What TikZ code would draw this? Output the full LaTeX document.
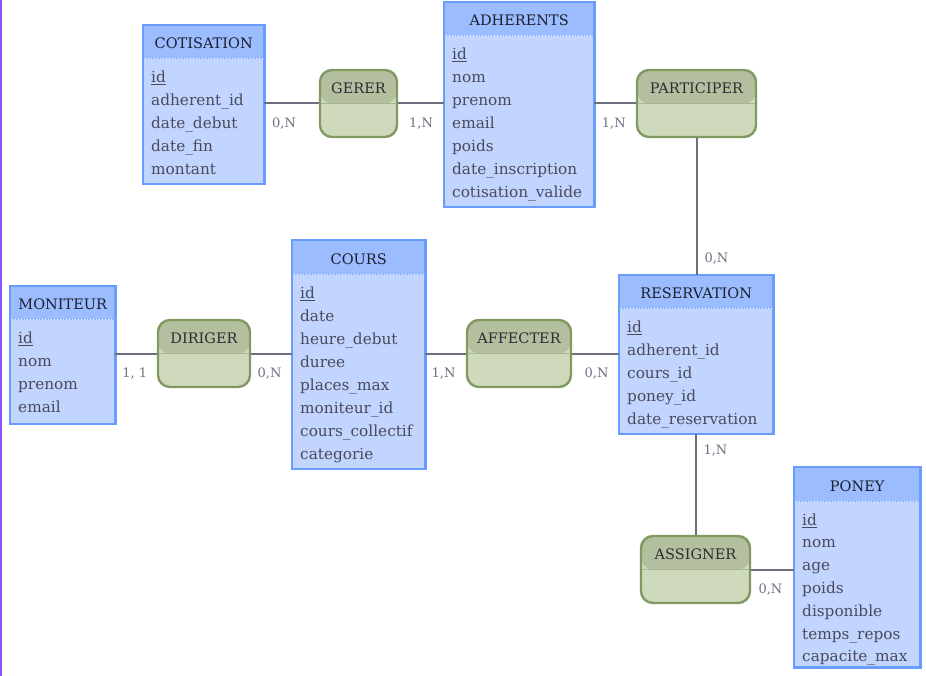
\documentclass[tikz,border=0pt]{standalone}
\usepackage{fontspec}
\setmainfont{DejaVu Serif}
\usetikzlibrary{positioning}

\definecolor{enthd}{HTML}{9BBDFF}
\definecolor{entbd}{HTML}{C2D5FF}
\definecolor{entln}{HTML}{6A9CFF}
\definecolor{relhd}{HTML}{B3BF9E}
\definecolor{relbd}{HTML}{CFDABC}
\definecolor{relln}{HTML}{809A62}
\definecolor{titlecol}{HTML}{1E1E2C}
\definecolor{attcol}{HTML}{4A4A5C}
\definecolor{cardcol}{HTML}{707084}
\definecolor{conncol}{HTML}{6E6E80}
\definecolor{sidecol}{HTML}{8A55FF}

\begin{document}
\begin{tikzpicture}[x=1pt,y=-1pt,
    enthead/.style={rectangle, anchor=north west, fill=enthd, minimum height=33pt, inner sep=0pt,
                    text height=14pt, text depth=0pt,
                    font=\fontsize{14.5}{16}\selectfont, text=titlecol},
    entbody/.style={rectangle, anchor=north west, fill=entbd, inner xsep=8pt, inner ysep=0pt,
                    align=left, font=\fontsize{15.3}{23}\selectfont, text=attcol,
                    execute at begin node={\rule{0pt}{23.5pt}},
                    execute at end node={\rule[-\bodypad]{0pt}{\bodypad}}},
    entframe/.style={draw=entln, line width=2.4pt},
    entsep/.style={draw=entln!80, dash pattern=on 2pt off 1pt, line width=1pt},
    relnode/.style={rectangle, rounded corners=12pt, draw=relln, line width=2.4pt, fill=relbd,
                    minimum height=67pt, inner ysep=0pt, text height=23.5pt, text depth=43.5pt,
                    font=\fontsize{14.5}{16}\selectfont, text=titlecol!88!relln,
                    path picture={\fill[relhd] (path picture bounding box.north west) rectangle (path picture bounding box.east);
                                  \draw[relln!70, line width=1pt] (path picture bounding box.west) -- (path picture bounding box.east);}},
    cardlabel/.style={font=\fontsize{13}{15}\selectfont, text=cardcol, inner sep=0pt}]
  \tikzstyle{conn}=[draw=conncol, line width=2pt]
  \def\bodypad{9.5pt}

  \useasboundingbox (0,0) rectangle (926,676);
  \fill[sidecol] (0,0) rectangle (2,676);

  % entities
  \node[enthead, minimum width=121pt] (cot) at (143,25) {COTISATION};
  \node[entbody, text width=105pt] (cotb) at (cot.south west)
       {\underline{id}\\adherent\_id\\date\_debut\\date\_fin\\montant};
  \draw[entframe] (cot.north west) rectangle (cotb.south east);
  \draw[entsep] (cot.south west) -- (cot.south east);

  \node[enthead, minimum width=150pt] (adh) at (444,2) {ADHERENTS};
  \node[entbody, text width=134pt] (adhb) at (adh.south west)
       {\underline{id}\\nom\\prenom\\email\\poids\\date\_inscription\\cotisation\_valide};
  \draw[entframe] (adh.north west) rectangle (adhb.south east);
  \draw[entsep] (adh.south west) -- (adh.south east);

  \def\bodypad{11.5pt}
  \node[enthead, minimum width=105pt] (mon) at (10,286) {MONITEUR};
  \node[entbody, text width=89pt] (monb) at (mon.south west)
       {\underline{id}\\nom\\prenom\\email};
  \draw[entframe] (mon.north west) rectangle (monb.south east);
  \draw[entsep] (mon.south west) -- (mon.south east);

  \def\bodypad{9.5pt}
  \node[enthead, minimum width=133pt, minimum height=34pt] (cours) at (292,240) {COURS};
  \node[entbody, text width=117pt] (coursb) at (cours.south west)
       {\underline{id}\\date\\heure\_debut\\duree\\places\_max\\moniteur\_id\\cours\_collectif\\categorie};
  \draw[entframe] (cours.north west) rectangle (coursb.south east);
  \draw[entsep] (cours.south west) -- (cours.south east);

  \node[enthead, minimum width=154pt] (resa) at (619,275) {RESERVATION};
  \node[entbody, text width=138pt] (resab) at (resa.south west)
       {\underline{id}\\adherent\_id\\cours\_id\\poney\_id\\date\_reservation};
  \draw[entframe] (resa.north west) rectangle (resab.south east);
  \draw[entsep] (resa.south west) -- (resa.south east);

  \def\bodypad{5.5pt}
  \node[enthead, minimum width=126pt, minimum height=34pt] (pon) at (794,467) {PONEY};
  \node[entbody, text width=110pt, font=\fontsize{15.3}{22.8}\selectfont] (ponb) at (pon.south west)
       {\underline{id}\\nom\\age\\poids\\disponible\\temps\_repos\\capacite\_max};
  \draw[entframe] (pon.north west) rectangle (ponb.south east);
  \draw[entsep] (pon.south west) -- (pon.south east);

  % associations
  \node[relnode, minimum width=77pt]  (gerer) at (358.5,103.5) {GERER};
  \node[relnode, minimum width=119pt] (part)  at (696.5,103.5) {PARTICIPER};
  \node[relnode, minimum width=92pt]  (dir)   at (204,353.5)   {DIRIGER};
  \node[relnode, minimum width=104pt] (aff)   at (519,353.5)   {AFFECTER};
  \node[relnode, minimum width=109pt] (assi)  at (695.5,569.5) {ASSIGNER};

  % links
  \path[conn] (gerer.west -| cotb.east) edge node[cardlabel, pos=0.36, below=13pt] {0,N} (gerer.west)
              (gerer.east) edge node[cardlabel, midway, below=13pt] {1,N} (gerer.east -| adhb.west)
              (part.west -| adhb.east) edge node[cardlabel, pos=0.47, below=13pt] {1,N} (part.west)
              (part.south) edge node[cardlabel, pos=0.88, right=7pt] {0,N} (part.south |- resa.north)
              (dir.west -| monb.east) edge node[cardlabel, pos=0.47, below=13pt] {1, 1} (dir.west)
              (dir.east) edge node[cardlabel, pos=0.45, below=13pt] {0,N} (dir.east -| coursb.west)
              (aff.west -| coursb.east) edge node[cardlabel, pos=0.45, below=13pt] {1,N} (aff.west)
              (aff.east) edge node[cardlabel, pos=0.52, below=13pt] {0,N} (aff.east -| resab.west)
              (assi.north |- resab.south) edge node[cardlabel, pos=0.17, right=7pt] {1,N} (assi.north)
              (assi.east) edge node[cardlabel, pos=0.45, below=13pt] {0,N} (assi.east -| ponb.west);
\end{tikzpicture}
\end{document}
